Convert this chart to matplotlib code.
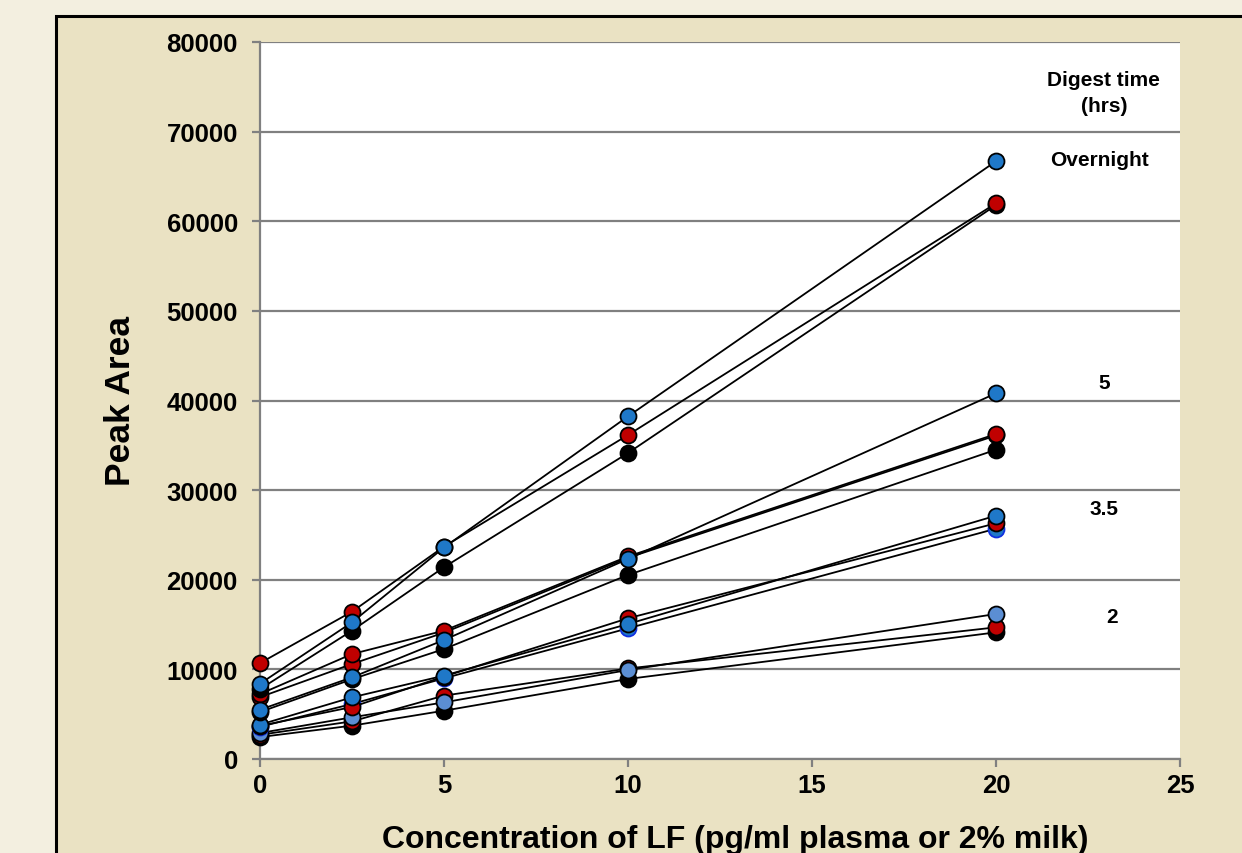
import matplotlib.pyplot as plt
from matplotlib.patches import Rectangle

plt.rcParams['font.family'] = ['Liberation Sans', 'DejaVu Sans']
plt.rcParams['font.weight'] = 'bold'

# Concentrações (pg/ml)
conc = [0, 2.5, 5, 10, 20]

# Overnight
on_blue = [8400, 15250, 23600, 38230, 66700]
on_red = [10700, 16440, 23700, 36150, 62000]
on_black = [7800, 14320, 21400, 34140, 61800]

# 5 hrs
h5_blue = [5500, 9110, 13280, 22320, 40800]
h5_red = [7250, 11710, 14320, 22600, 36260]
h5_red2 = [6900, 10600, 14100, 22450, 36100]
h5_black = [5240, 8900, 12270, 20530, 34510]

# 3.5 hrs
h35_blue = [3830, 6880, 9300, 15060, 27150]
h35_red = [3700, 5800, 9200, 15700, 26300]
h35_blue2 = [3600, 6140, 9000, 14580, 25700]

# 2 hrs
h2_steel = [2900, 4650, 6320, 9930, 16180]
h2_red = [2700, 4200, 7070, 10100, 14690]
h2_black = [2450, 3720, 5390, 8930, 14130]

blue = '#1F78C8'
red = '#C00000'
steel = '#5B8ED3'

# ordem de desenho (os últimos ficam por cima)
series = [
    (h2_black, 'black', 'black'),
    (h2_red, red, 'black'),
    (h2_steel, steel, 'black'),
    (h35_blue2, blue, '#1030E0'),
    (h35_red, red, 'black'),
    (h35_blue, blue, 'black'),
    (h5_black, 'black', 'black'),
    (h5_red2, red, 'black'),
    (h5_red, red, 'black'),
    (h5_blue, blue, 'black'),
    (on_black, 'black', 'black'),
    (on_red, red, 'black'),
    (on_blue, blue, 'black'),
]

fig = plt.figure(figsize=(12.42, 8.54), dpi=100, facecolor='#F3EFE0')
# painel com borda preta
fig.patches.append(Rectangle((56 / 1242, -0.2), 1.2, 1.2 - 17 / 854,
                             transform=fig.transFigure, facecolor='#EAE2C3',
                             edgecolor='black', linewidth=2.2, zorder=-1))

ax = fig.add_axes([260 / 1242, 1 - 760 / 854, 920 / 1242, 717 / 854])
ax.set_zorder(2)
ax.set_facecolor('white')

for vals, fc, ec in series:
    ax.plot(conc, vals, color='black', linewidth=1.3, marker='o', markersize=11.5,
            markerfacecolor=fc, markeredgecolor=ec, markeredgewidth=1.3,
            clip_on=False, zorder=3)

ax.set_xlim(0, 25)
ax.set_ylim(0, 80000)
ax.set_xticks(range(0, 26, 5))
ax.set_yticks(range(0, 80001, 10000))
ax.grid(axis='y', color='#808080', linewidth=1.6, zorder=0)
ax.set_axisbelow(True)

for s in ['top', 'right']:
    ax.spines[s].set_visible(False)
for s in ['left', 'bottom']:
    ax.spines[s].set_color('#808080')
    ax.spines[s].set_linewidth(1.6)

ax.tick_params(axis='both', direction='out', length=6, width=1.6, color='#808080',
               labelsize=18.5, pad=10)
ax.tick_params(axis='x', pad=4)

ax.set_xlabel('Concentration of LF (pg/ml plasma or 2% milk)', fontsize=23,
              fontweight='bold')
ax.xaxis.set_label_coords(0.517, -0.09)
ax.set_ylabel('Peak Area', fontsize=25.5, fontweight='bold', labelpad=21)

# rótulos dos tempos de digestão
ax.text(22.93, 74400, 'Digest time\n(hrs)', ha='center', va='center', fontsize=15,
        fontweight='bold', linespacing=1.45)
ax.text(22.8, 66900, 'Overnight', ha='center', va='center', fontsize=15, fontweight='bold')
ax.text(22.93, 42000, '5', ha='center', va='center', fontsize=15, fontweight='bold')
ax.text(22.93, 27900, '3.5', ha='center', va='center', fontsize=15, fontweight='bold')
ax.text(23.15, 15950, '2', ha='center', va='center', fontsize=15, fontweight='bold')

fig.savefig('out.png', dpi=100, facecolor=fig.get_facecolor())
